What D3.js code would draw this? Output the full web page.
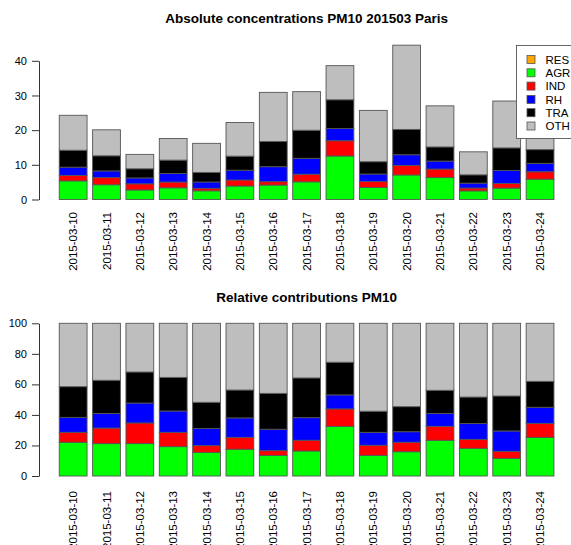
<!DOCTYPE html>
<html>
<head>
<meta charset="utf-8">
<script src="https://cdn.jsdelivr.net/npm/d3@7"></script>
<style>
  html, body { margin: 0; padding: 0; background: #fff; }
  svg { display: block; font-family: "Liberation Sans", Arial, Helvetica, sans-serif; }
</style>
</head>
<body>
<svg id="chart" width="571" height="545"></svg>
<script>
// Daily PM10 source apportionment, Paris, March 2015 (µg/m3)
const dates = ["2015-03-10","2015-03-11","2015-03-12","2015-03-13","2015-03-14",
               "2015-03-15","2015-03-16","2015-03-17","2015-03-18","2015-03-19",
               "2015-03-20","2015-03-21","2015-03-22","2015-03-23","2015-03-24"];
const sources = ["RES", "AGR", "IND", "RH", "TRA", "OTH"];
const sourceColors = ["#FFA500", "#00FF00", "#FF0000", "#0000FF", "#000000", "#BEBEBE"];

const RES = [0, 0, 0, 0, 0, 0, 0, 0, 0, 0, 0, 0, 0, 0, 0];
const AGR = [5.37, 4.26, 2.76, 3.38, 2.51, 3.89, 4.17, 5.10, 12.55, 3.47, 7.08, 6.32, 2.49, 3.29, 5.87];
const IND = [1.58, 2.05, 1.76, 1.65, 0.71, 1.73, 0.96, 2.18, 4.40, 1.70, 2.76, 2.46, 0.81, 1.31, 2.13];
const RH  = [2.38, 1.93, 1.70, 2.46, 1.83, 2.82, 4.33, 4.60, 3.55, 2.18, 3.07, 2.30, 1.42, 3.78, 2.44];
const TRA = [4.88, 4.36, 2.64, 3.87, 2.77, 4.06, 7.26, 8.09, 8.26, 3.55, 7.30, 4.08, 2.39, 6.50, 3.94];
const OTH = [10.08, 7.50, 4.15, 6.23, 8.38, 9.70, 14.18, 11.13, 9.84, 14.80, 24.30, 11.85, 6.64, 13.52, 8.82];

const absTicks = [0, 10, 20, 30, 40];
const relTicks = [0, 20, 40, 60, 80, 100];

const seriesValues = [RES, AGR, IND, RH, TRA, OTH];

// Row objects for d3.stack
const absRows = dates.map((d, i) => {
  const r = { date: d };
  sources.forEach((s, k) => { r[s] = seriesValues[k][i]; });
  return r;
});
const relRows = absRows.map(r => {
  const total = d3.sum(sources, s => r[s]);
  const o = { date: r.date };
  sources.forEach(s => { o[s] = r[s] / total * 100; });
  return o;
});

const svg = d3.select("#chart");
const color = d3.scaleOrdinal().domain(sources).range(sourceColors);

// Shared horizontal band scale: bar width 1, gap 0.2
const x = d3.scaleBand()
  .domain(dates)
  .range([53.7, 559.5])
  .paddingInner(1 / 6)
  .paddingOuter(1 / 6);

function drawPanel(rows, y, ticks, title, titleY, labelTop) {
  const g = svg.append("g");
  const stacked = d3.stack().keys(sources)(rows);

  g.selectAll("g.layer")
    .data(stacked)
    .join("g")
      .attr("class", "layer")
      .attr("fill", d => color(d.key))
    .selectAll("rect")
    .data(d => d)
    .join("rect")
      .attr("x", d => x(d.data.date))
      .attr("width", x.bandwidth())
      .attr("y", d => y(d[1]))
      .attr("height", d => y(d[0]) - y(d[1]))
      .attr("stroke", "#555")
      .attr("stroke-width", 0.9);

  // y axis
  const yAxis = d3.axisLeft(y).tickValues(ticks).tickSize(7).tickSizeOuter(0).tickPadding(5);
  const ya = g.append("g").attr("transform", "translate(39,0)").call(yAxis);
  ya.select(".domain").attr("stroke", "#333");
  ya.selectAll(".tick line").attr("stroke", "#333");
  ya.selectAll("text").attr("font-size", 11).attr("fill", "#000")
    .attr("font-family", "Liberation Sans, Arial, sans-serif");

  // x axis: vertical date labels
  const xAxis = d3.axisBottom(x).tickSize(0).tickPadding(0);
  const xa = g.append("g").attr("transform", `translate(0,${labelTop})`).call(xAxis);
  xa.select(".domain").remove();
  xa.selectAll("text")
    .attr("font-size", 11.5)
    .attr("font-family", "Liberation Sans, Arial, sans-serif")
    .attr("fill", "#000")
    .attr("text-anchor", "end")
    .attr("transform", "rotate(-90)")
    .attr("x", 0)
    .attr("y", 0)
    .attr("dy", "0.35em");

  // panel title
  svg.append("text")
    .attr("x", (x.range()[0] + x.range()[1]) / 2)
    .attr("y", titleY)
    .attr("text-anchor", "middle")
    .attr("font-size", 13.5)
    .attr("font-weight", "bold")
    .text(title);
}

const yAbs = d3.scaleLinear().domain([0, 40]).range([199.5, 60.8]);
const yRel = d3.scaleLinear().domain([0, 100]).range([476, 323.3]);

drawPanel(absRows, yAbs, absTicks, "Absolute concentrations PM10 201503 Paris", 23, 212);
drawPanel(relRows, yRel, relTicks, "Relative contributions PM10", 302, 491);

// Legend for the absolute panel
const legend = svg.append("g").attr("transform", "translate(516.5,45.5)");
legend.append("rect")
  .attr("width", 70).attr("height", 93)
  .attr("fill", "#fff").attr("stroke", "#555").attr("stroke-width", 0.9);
const item = legend.selectAll("g.item")
  .data(sources)
  .join("g")
    .attr("class", "item")
    .attr("transform", (d, i) => `translate(0,${14 + i * 13.3})`);
item.append("rect")
  .attr("x", 10.5).attr("y", -4).attr("width", 8).attr("height", 8)
  .attr("fill", d => color(d)).attr("stroke", "#555").attr("stroke-width", 0.8);
item.append("text")
  .attr("x", 29).attr("dy", "0.36em")
  .attr("font-size", 11.5)
  .text(d => d);
</script>
</body>
</html>
